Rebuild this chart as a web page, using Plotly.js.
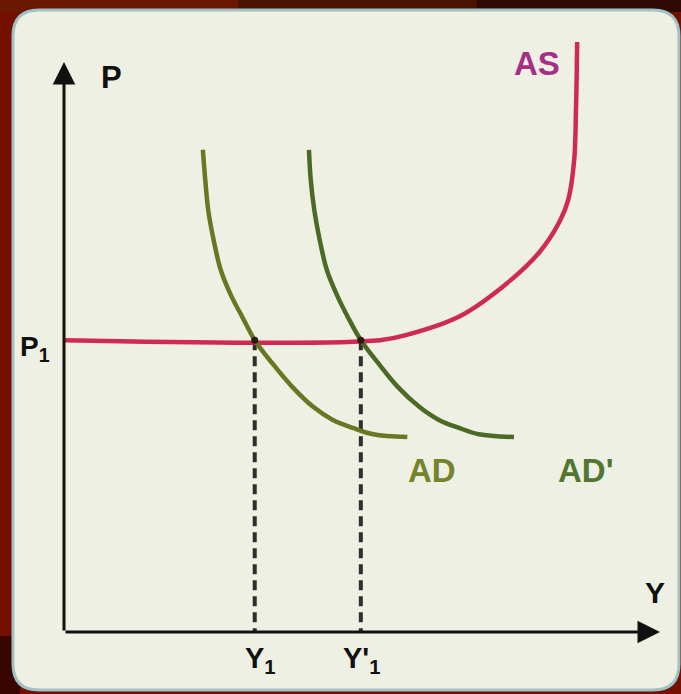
<!DOCTYPE html>
<html>
<head>
<meta charset="utf-8">
<script src="https://cdn.plot.ly/plotly-3.0.1.min.js"></script>
<style>
html,body{margin:0;padding:0;background:#741000;}
#chart{width:681px;height:694px;}
</style>
</head>
<body>
<div id="chart"></div>
<script>
// ---- data (in model units: output Y on x, price level P on y) ----
const P1 = 5.12;
const Y1 = 3.2;
const Y1p = 4.98;

const asX = [0, 5.30, 5.81, 6.64, 7.48, 7.99, 8.32, 8.46, 8.56, 8.59, 8.61];
const asY = [5.12, 5.12, 5.23, 5.54, 6.16, 6.68, 7.21, 7.58, 8.28, 9.16, 10.35];

const adX = [2.33, 2.37, 2.42, 2.51, 2.63, 2.80, 3.00, 3.20, 3.49, 3.83, 4.18, 4.51, 4.85, 5.19, 5.76];
const adY = [8.46, 7.93, 7.40, 6.88, 6.35, 5.91, 5.51, 5.12, 4.72, 4.30, 3.95, 3.72, 3.58, 3.47, 3.42];

const ad2X = [4.11, 4.14, 4.20, 4.29, 4.41, 4.58, 4.77, 4.98, 5.27, 5.60, 5.96, 6.29, 6.63, 6.96, 7.55];
const ad2Y = [8.46, 7.93, 7.40, 6.88, 6.35, 5.91, 5.51, 5.12, 4.72, 4.30, 3.95, 3.72, 3.58, 3.47, 3.42];

const axisMax = 10;
const labels = {P: 'P', P1: 'P<sub>1</sub>', Y: 'Y', Y1: 'Y<sub>1</sub>', Y1p: "Y'<sub>1</sub>", AD: 'AD', AD2: "AD'", AS: 'AS'};

// ---- traces ----
const traces = [
  {x: [Y1, Y1], y: [P1, 0], mode: 'lines', line: {color: '#2e2e2e', width: 4, dash: '10px,6px'}, hoverinfo: 'skip'},
  {x: [Y1p, Y1p], y: [P1, 0], mode: 'lines', line: {color: '#2e2e2e', width: 4, dash: '10px,6px'}, hoverinfo: 'skip'},
  {x: asX, y: asY, mode: 'lines', line: {color: '#cf2a55', width: 4.5, shape: 'spline', smoothing: 1.0}, hoverinfo: 'skip'},
  {x: adX, y: adY, mode: 'lines', line: {color: '#6b7622', width: 4.5, shape: 'spline', smoothing: 1.0}, hoverinfo: 'skip'},
  {x: ad2X, y: ad2Y, mode: 'lines', line: {color: '#4b6a26', width: 4.5, shape: 'spline', smoothing: 1.0}, hoverinfo: 'skip'},
  {x: [Y1, Y1p], y: [P1, P1], mode: 'markers', marker: {color: '#2a1a10', size: 7}, hoverinfo: 'skip'}
];

// ---- panel geometry (pixels -> paper) ----
const W = 681, H = 694;
function px(x){return (x/W).toFixed(5);}
function py(y){return (1 - y/H).toFixed(5);}
const L = 13, R = 679, T = 10, B = 690, rad = 26;
const panelPath = 'M' + px(L+rad) + ',' + py(T) +
  ' L' + px(R-rad) + ',' + py(T) +
  ' Q' + px(R) + ',' + py(T) + ' ' + px(R) + ',' + py(T+rad) +
  ' L' + px(R) + ',' + py(B-rad) +
  ' Q' + px(R) + ',' + py(B) + ' ' + px(R-rad) + ',' + py(B) +
  ' L' + px(L+rad) + ',' + py(B) +
  ' Q' + px(L) + ',' + py(B) + ' ' + px(L) + ',' + py(B-rad) +
  ' L' + px(L) + ',' + py(T+rad) +
  ' Q' + px(L) + ',' + py(T) + ' ' + px(L+rad) + ',' + py(T) + ' Z';

const shapes = [
  {type: 'rect', xref: 'paper', yref: 'paper', x0: 0, x1: 0.35, y0: py(12), y1: 1, fillcolor: '#6a1800', line: {width: 0}, layer: 'below'},
  {type: 'rect', xref: 'paper', yref: 'paper', x0: 0.35, x1: 0.7, y0: py(12), y1: 1, fillcolor: '#4a1200', line: {width: 0}, layer: 'below'},
  {type: 'rect', xref: 'paper', yref: 'paper', x0: 0.7, x1: 1, y0: py(12), y1: 1, fillcolor: '#2c0a02', line: {width: 0}, layer: 'below'},
  {type: 'rect', xref: 'paper', yref: 'paper', x0: 0, x1: px(20), y0: 0, y1: py(636), fillcolor: '#380500', line: {width: 0}, layer: 'below'},
  {type: 'path', xref: 'paper', yref: 'paper', path: panelPath, fillcolor: '#eef0e3', line: {color: '#9fc2c6', width: 3}, layer: 'below'}
];

const fam = 'Liberation Sans, Arial, sans-serif';
function lab(text, x, y, color, size){
  return {text: '<b>' + text + '</b>', x: x, y: y, xref: 'x', yref: 'y', showarrow: false,
          font: {family: fam, size: size, color: color || '#111'}};
}

const annotations = [
  {x: axisMax, y: 0, ax: 0, ay: 0, xref: 'x', yref: 'y', axref: 'x', ayref: 'y', text: '', showarrow: true,
   arrowhead: 2, arrowsize: 1.5, arrowwidth: 3, arrowcolor: '#111', standoff: 0, startstandoff: 0},
  {x: 0, y: axisMax, ax: 0, ay: 0, xref: 'x', yref: 'y', axref: 'x', ayref: 'y', text: '', showarrow: true,
   arrowhead: 2, arrowsize: 1.5, arrowwidth: 3, arrowcolor: '#111', standoff: 0, startstandoff: 0},
  lab(labels.P, 0.80, 9.72, '#111', 31),
  lab(labels.P1, -0.49, 4.98, '#111', 28),
  lab(labels.Y, 9.92, 0.70, '#111', 30),
  lab(labels.Y1, 3.29, -0.49, '#111', 29),
  lab(labels.Y1p, 5.0, -0.49, '#111', 29),
  lab(labels.AD, 6.17, 2.84, '#74842c', 33),
  lab(labels.AD2, 8.76, 2.84, '#537532', 33),
  lab(labels.AS, 7.94, 9.98, '#a52f86', 33)
];

const ax = {showgrid: false, zeroline: false, showticklabels: false, showline: false, ticks: '', fixedrange: true};
const layout = {
  width: W, height: H,
  margin: {l: 0, r: 0, t: 0, b: 0},
  paper_bgcolor: '#741000',
  plot_bgcolor: 'rgba(0,0,0,0)',
  showlegend: false,
  xaxis: Object.assign({range: [-1.0738, 10.352]}, ax),
  yaxis: Object.assign({range: [-1.088, 11.088]}, ax),
  shapes: shapes,
  annotations: annotations
};

Plotly.newPlot('chart', traces, layout, {staticPlot: true, displayModeBar: false});
</script>
</body>
</html>
